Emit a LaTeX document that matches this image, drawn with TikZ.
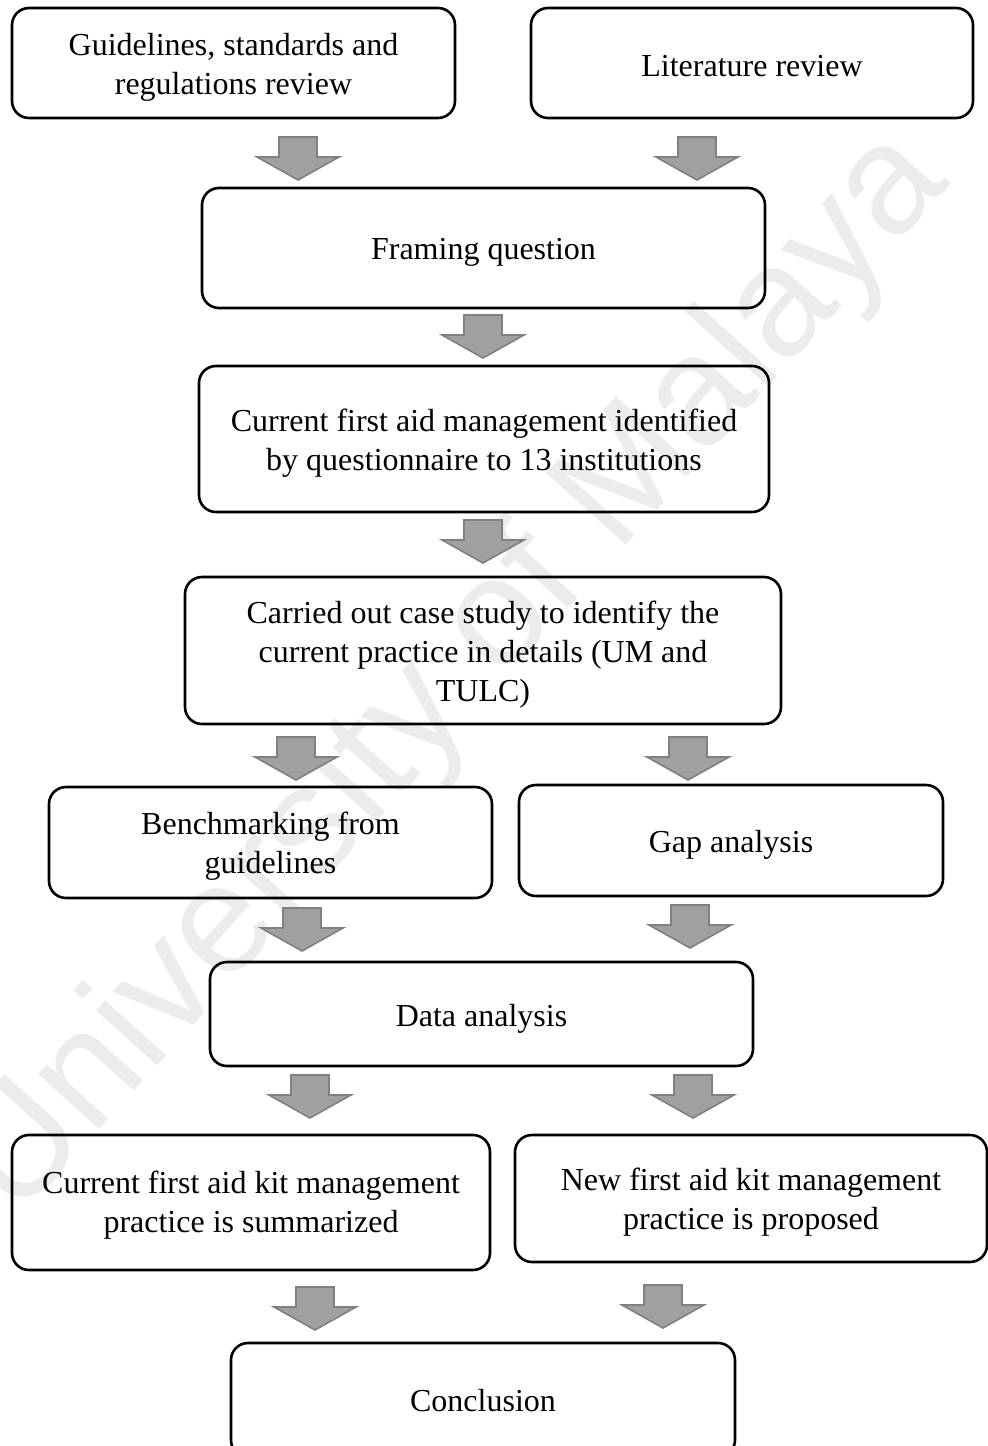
\documentclass[tikz,border=0pt]{standalone}
\usepackage{fontspec}
\setmainfont{Liberation Serif}
\newfontfamily\wmfont{Liberation Sans}
\definecolor{arrowfill}{HTML}{A0A0A0}
\definecolor{arrowdraw}{HTML}{808080}
\definecolor{wmgray}{HTML}{ECECEC}
\tikzset{
  box/.style={draw=black, line width=2.6pt, rounded corners=17pt, inner sep=0pt},
  boxtext/.style={align=center, font=\fontsize{32}{39}\selectfont, inner sep=0pt},
  blockarrow/.pic={
    \draw[fill=arrowfill, draw=arrowdraw, line width=1.6pt, line join=miter]
      (-19,0) -- (19,0) -- (19,20) -- (41,20) -- (0,43) -- (-41,20) -- (-19,20) -- cycle;
  }
}
\newcommand{\flowbox}[6]{%
  \node[box, minimum width=#3pt, minimum height=#4pt] (#1) at (#2) {};
  \node[boxtext] (#1-t) at ([yshift=-#5pt]#1.center) {#6};
}
\begin{document}
\begin{tikzpicture}[x=1pt,y=-1pt]
\useasboundingbox (0,0) rectangle (988,1446);
\clip (0,0) rectangle (988,1446);
\fill[white] (0,0) rectangle (988,1446);
% watermark
\node[rotate=48, text=wmgray, font=\wmfont\fontsize{155}{155}\selectfont, inner sep=0pt] (wm) at (455,675) {University of Malaya};
% boxes
\flowbox{guide}{233.5,63}{443}{110}{4}{Guidelines, standards and\\regulations review}
\flowbox{lit}{752,63}{442}{110}{3}{Literature review}
\flowbox{frame}{483.5,248}{563}{120}{4}{Framing question}
\flowbox{cur}{484,439}{570}{146}{4}{Current first aid management identified\\by questionnaire to 13 institutions}
\flowbox{case}{483,650.5}{596}{147}{4}{Carried out case study to identify the\\current practice in details (UM and\\TULC)}
\flowbox{bench}{270.5,842.5}{443}{111}{4}{Benchmarking from\\guidelines}
\flowbox{gap}{731,840.5}{424}{111}{4}{Gap analysis}
\flowbox{data}{481.5,1014}{543}{104}{5}{Data analysis}
\flowbox{kit}{251,1202.5}{478}{135}{3}{Current first aid kit management\\practice is summarized}
\flowbox{new}{751,1198.5}{472}{127}{4}{New first aid kit management\\practice is proposed}
\flowbox{concl}{483,1400}{504}{114}{1}{Conclusion}
% block arrows
\pic at (298,137) {blockarrow};
\pic at (697,137) {blockarrow};
\pic at (483,315) {blockarrow};
\pic at (483,520) {blockarrow};
\pic at (296,737) {blockarrow};
\pic at (688,737) {blockarrow};
\pic at (302,908) {blockarrow};
\pic at (690,905) {blockarrow};
\pic at (310,1075) {blockarrow};
\pic at (693,1075) {blockarrow};
\pic at (315,1287) {blockarrow};
\pic at (663,1285) {blockarrow};
\end{tikzpicture}
\end{document}
